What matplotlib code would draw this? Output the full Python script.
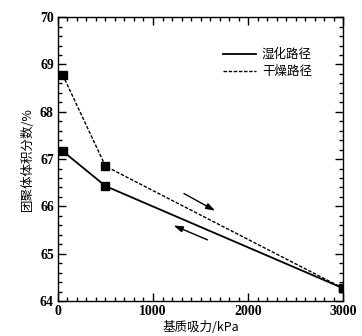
import numpy as np
import matplotlib.pyplot as plt
from matplotlib.ticker import MultipleLocator

# data
suction = [50, 500, 3000]
wet_frac = [67.17, 66.43, 64.27]
dry_frac = [68.78, 66.85, 64.27]
wet_label = '湿化路径'
dry_label = '干燥路径'

num_font = 'Liberation Serif'
cjk = ['Noto Sans CJK SC', 'DejaVu Sans']

fig = plt.figure(figsize=(3.62, 3.36), dpi=100)
ax = fig.add_axes([0.160, 0.104, 0.788, 0.845])

ax.plot(suction, wet_frac, color='black', lw=1.3, marker='s', ms=6, label=wet_label)
ax.plot(suction, dry_frac, color='black', lw=1.0, ls=(0, (2.5, 1.2)), marker='s', ms=6, label=dry_label)

# direction arrows
ax.annotate('', xy=(1680, 65.88), xytext=(1300, 66.30),
            arrowprops=dict(arrowstyle='-|>,head_length=0.6,head_width=0.2', color='black', lw=1.0,
                            mutation_scale=9))
ax.annotate('', xy=(1190, 65.62), xytext=(1600, 65.27),
            arrowprops=dict(arrowstyle='-|>,head_length=0.6,head_width=0.2', color='black', lw=1.0,
                            mutation_scale=9))

ax.set_xlim(0, 3000)
ax.set_ylim(64, 70)
ax.xaxis.set_major_locator(MultipleLocator(1000))
ax.xaxis.set_minor_locator(MultipleLocator(100))
ax.yaxis.set_major_locator(MultipleLocator(1))
ax.yaxis.set_minor_locator(MultipleLocator(0.2))
ax.tick_params(which='both', direction='in', top=True, right=True, width=1.0)
ax.tick_params(which='major', length=6, pad=3)
ax.tick_params(which='minor', length=3)
for sp in ax.spines.values():
    sp.set_linewidth(1.0)
for lab in ax.get_xticklabels() + ax.get_yticklabels():
    lab.set_fontfamily(num_font)
    lab.set_fontweight('bold')
    lab.set_fontsize(10)

ax.set_xlabel('基质吸力/kPa', family=cjk, fontsize=9, labelpad=2)
ax.set_ylabel('团聚体体积分数/%', family=cjk, fontsize=9, labelpad=4)

leg = ax.legend(loc='upper right', bbox_to_anchor=(0.93, 0.93), frameon=False,
                prop={'family': cjk, 'size': 9}, handlelength=2.6,
                handletextpad=0.5, labelspacing=0.3)
for h in leg.legend_handles:
    h.set_marker('')

fig.savefig('out.png', dpi=100)
